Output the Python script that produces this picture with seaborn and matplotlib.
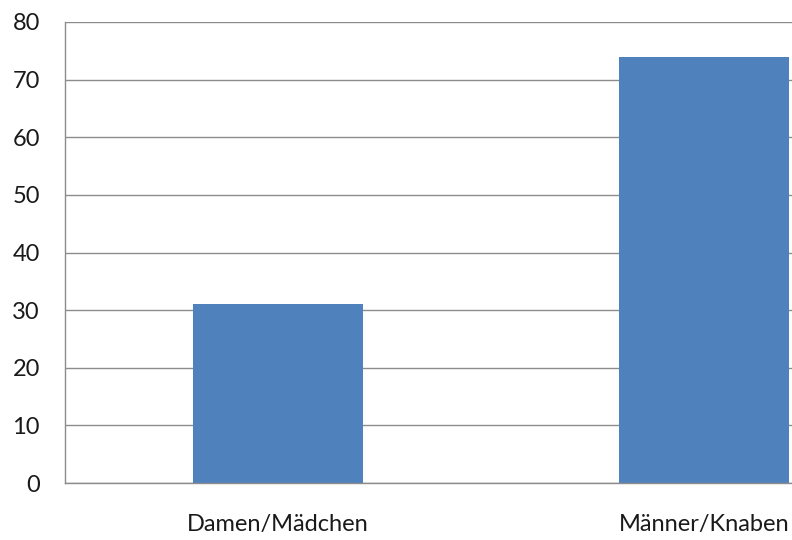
import matplotlib
matplotlib.use('Agg')
import matplotlib.pyplot as plt
import seaborn as sns
import pandas as pd

categories = ['Damen/Mädchen', 'Männer/Knaben']
values = [31, 74]

sns.set_style('white')
plt.rcParams['font.family'] = ['Lato', 'DejaVu Sans']

df = pd.DataFrame({'cat': categories, 'val': values})

fig = plt.figure(figsize=(7.92, 5.40), dpi=100)
ax = fig.add_axes([65 / 792, 57 / 540, 852 / 792, 461 / 540])
sns.barplot(data=df, x='cat', y='val', color='#4F81BD', width=0.4,
            saturation=1, ax=ax, linewidth=0)

ax.set_xlim(-0.5, 1.5)
ax.set_ylim(0, 80)
ax.set_yticks(range(0, 81, 10))
ax.yaxis.grid(True, color='#8c8c8c', linewidth=1)
ax.set_axisbelow(True)
ax.set_xlabel('')
ax.set_ylabel('')

for s in ['top', 'right']:
    ax.spines[s].set_visible(False)
for s in ['left', 'bottom']:
    ax.spines[s].set_color('#8c8c8c')
    ax.spines[s].set_linewidth(1)

ax.set_xticks([-0.5, 0.5, 1.5], minor=True)
ax.tick_params(axis='x', which='major', length=0, pad=22, labelsize=17, labelcolor='#1a1a1a')
ax.tick_params(axis='x', which='minor', length=6, color='#8c8c8c', width=1)
ax.tick_params(axis='y', length=6, color='#8c8c8c', width=1, pad=12, labelsize=17, labelcolor='#1a1a1a')

fig.savefig('out.png', dpi=100)
